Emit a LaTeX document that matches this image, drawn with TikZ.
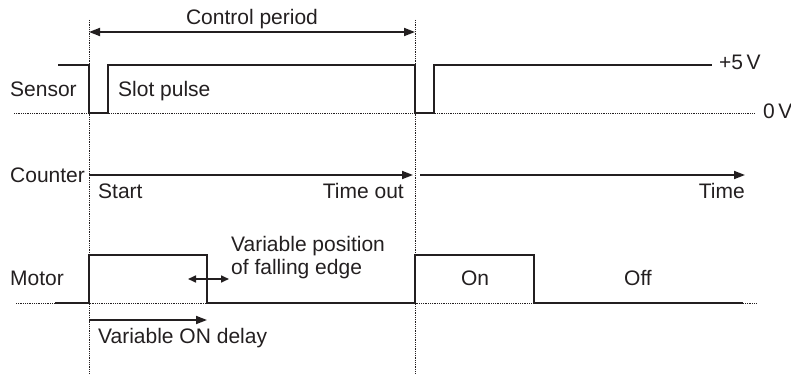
\documentclass[tikz,border=0pt]{standalone}
\usepackage{fontspec}
\setmainfont{Liberation Sans}
\usetikzlibrary{arrows.meta}
\definecolor{ink}{HTML}{231F20}

\begin{document}
\begin{tikzpicture}[
  x=1pt,y=-1pt,
  every node/.style={inner sep=0pt,text=ink,font=\fontsize{21}{23}\selectfont},
  wave/.style={draw=ink,line width=2.6pt,line join=miter},
  guide/.style={draw=ink,line width=0.8pt,densely dotted},
  span/.style={draw=ink,line width=1.8pt,-{Triangle[length=11pt,width=8pt]}},
  twoway/.style={draw=ink,line width=1.6pt,{Triangle[length=8pt,width=7pt]}-{Triangle[length=8pt,width=7pt]}}
]
  \useasboundingbox (0,0) rectangle (791,374);
  % time marks
  \coordinate (pa) at (89,32);   \coordinate (pb) at (415,32);
  \coordinate (ca) at (89,175);  \coordinate (cb) at (413,175);
  \coordinate (cc) at (420,175); \coordinate (cd) at (745,175);
  \coordinate (da) at (89,320);  \coordinate (db) at (207,320);
  \coordinate (fa) at (188,279); \coordinate (fb) at (229,279);
  % guides
  \draw[guide] (89,20) -- (89,374);
  \draw[guide] (415,20) -- (415,374);
  \draw[guide] (14,113) -- (755,113);
  \draw[guide] (16,303) -- (757,303);
  % sensor
  \draw[wave] (58,65) -- (89,65) -- (89,113) -- (108,113) -- (108,65)
    -- (415,65) -- (415,113) -- (434,113) -- (434,65) -- (712,65);
  % motor
  \draw[wave] (55,303) -- (89,303) -- (89,255) -- (207,255) -- (207,303)
    -- (415,303) -- (415,255) -- (534,255) -- (534,303) -- (743,303);
  % arrows
  \draw[span,{Triangle[length=11pt,width=8pt]}-{Triangle[length=11pt,width=8pt]}] (pa) -- (pb);
  \draw[span] (ca) -- (cb);
  \draw[span] (cc) -- (cd);
  \draw[span] (da) -- (db);
  \draw[twoway] (fa) -- (fb);
  % labels
  \node[anchor=base] (ctrl) at (252,25) {Control period};
  \node[anchor=base west] (sensor) at (10,97) {Sensor};
  \node[anchor=base west] (slot) at (118,97) {Slot pulse};
  \node[anchor=base west] (hi) at (719,70) {+5\,V};
  \node[anchor=base west] (lo) at (763,119) {0\,V};
  \node[anchor=base west] (counter) at (10,182) {Counter};
  \node[anchor=base west] (start) at (98,198) {Start};
  \node[anchor=base east] (tout) at (404,198) {Time out};
  \node[anchor=base east] (time) at (745,198) {Time};
  \node[anchor=base west] (motor) at (10,285) {Motor};
  \node[anchor=base west] (varpos) at (231,251) {Variable position};
  \node[anchor=base west] (fall) at (231,274) {of falling edge};
  \node[anchor=base] (on) at (475,285) {On};
  \node[anchor=base] (off) at (638,285) {Off};
  \node[anchor=base west] (ondly) at (98,343) {Variable ON delay};
\end{tikzpicture}
\end{document}
